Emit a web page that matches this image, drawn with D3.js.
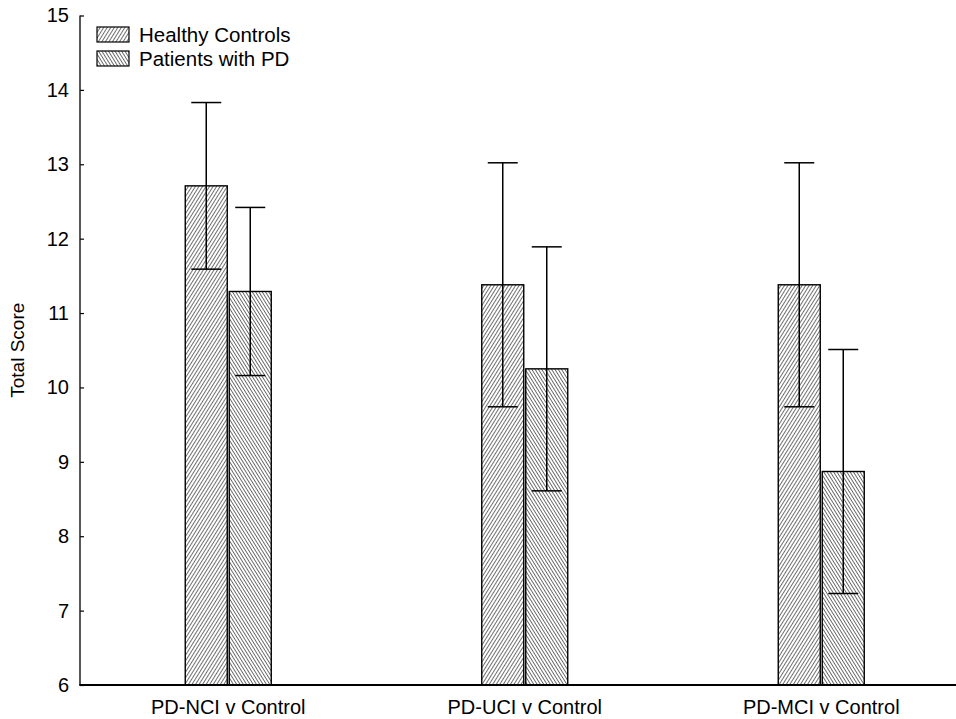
<!DOCTYPE html>
<html>
<head>
<meta charset="utf-8">
<script src="https://cdn.jsdelivr.net/npm/d3@7"></script>
<style>
  html, body { margin: 0; padding: 0; background: #fff; }
  svg { display: block; font-family: "Liberation Sans", Arial, sans-serif; }
</style>
</head>
<body>
<svg id="chart" width="956" height="719"></svg>
<script>
// Comparison groups along the x axis
const categories = ["PD-NCI v Control", "PD-UCI v Control", "PD-MCI v Control"];
const seriesNames = ["Healthy Controls", "Patients with PD"];

// Mean total score per group
const controlMeans = [12.71, 11.38, 11.38];
const patientMeans = [11.29, 10.25, 8.87];

// Error bar extents (lower / upper)
const controlLow  = [11.59, 9.74, 9.74];
const controlHigh = [13.83, 13.02, 13.02];
const patientLow  = [10.16, 8.61, 7.23];
const patientHigh = [12.42, 11.89, 10.51];

const yTicks = [6, 7, 8, 9, 10, 11, 12, 13, 14, 15];

const svg = d3.select("#chart");
const FONT = "Liberation Sans, Arial, sans-serif";

const plotLeft = 80, plotRight = 969.5, plotTop = 15.5, plotBottom = 685;

const x = d3.scaleBand().domain(categories).range([plotLeft, plotRight]).padding(0);
const y = d3.scaleLinear().domain([6, 15]).range([plotBottom, plotTop]);

// Hatch fills: forward diagonal for controls, back diagonal for patients
const defs = svg.append("defs");
function hatch(id, angle, gap) {
  const p = defs.append("pattern")
    .attr("id", id)
    .attr("patternUnits", "userSpaceOnUse")
    .attr("width", gap).attr("height", gap)
    .attr("patternTransform", `rotate(${angle})`);
  p.append("rect").attr("width", gap).attr("height", gap).attr("fill", "#fff");
  p.append("line")
    .attr("x1", 0).attr("y1", 0).attr("x2", 0).attr("y2", gap)
    .attr("stroke", "#1a1a1a").attr("stroke-width", 1.25);
}
hatch("hatchHC", 32, 3.0);
hatch("hatchPD", -32, 2.8);
const fills = ["url(#hatchHC)", "url(#hatchPD)"];

const rows = categories.map((c, i) => ({
  cat: c,
  vals: [
    { s: 0, mean: controlMeans[i], lo: controlLow[i], hi: controlHigh[i] },
    { s: 1, mean: patientMeans[i], lo: patientLow[i], hi: patientHigh[i] }
  ]
}));

const barW = 42, barGap = 2, capW = 30;
function barX(cat, s) {
  const c = x(cat) + x.bandwidth() / 2;
  return s === 0 ? c - barGap / 2 - barW : c + barGap / 2;
}

const g = svg.append("g");
rows.forEach(r => {
  r.vals.forEach(v => {
    const bx = barX(r.cat, v.s);
    g.append("rect")
      .attr("x", bx).attr("y", y(v.mean))
      .attr("width", barW).attr("height", y(6) - y(v.mean))
      .attr("fill", fills[v.s])
      .attr("stroke", "#000").attr("stroke-width", 1.4);
  });
});

// Error bars
rows.forEach(r => {
  r.vals.forEach(v => {
    const cx = barX(r.cat, v.s) + barW / 2;
    g.append("line")
      .attr("x1", cx).attr("x2", cx)
      .attr("y1", y(v.hi)).attr("y2", y(v.lo))
      .attr("stroke", "#000").attr("stroke-width", 1.5);
    [v.hi, v.lo].forEach(e => {
      g.append("line")
        .attr("x1", cx - capW / 2).attr("x2", cx + capW / 2)
        .attr("y1", y(e)).attr("y2", y(e))
        .attr("stroke", "#000").attr("stroke-width", 1.5);
    });
  });
});

// Y axis with short inward ticks
const yAxis = svg.append("g")
  .attr("transform", `translate(${plotLeft},0)`)
  .call(d3.axisRight(y).tickValues(yTicks).tickSize(4).tickFormat(d3.format("d")));
yAxis.select(".domain").remove();
yAxis.selectAll(".tick line").attr("stroke", "#000").attr("stroke-width", 1.2);
yAxis.selectAll(".tick text")
  .attr("x", -11).attr("text-anchor", "end")
  .attr("font-size", 20).attr("fill", "#000")
  .attr("font-family", FONT);
svg.append("line")
  .attr("x1", plotLeft).attr("x2", plotLeft).attr("y1", plotTop).attr("y2", plotBottom)
  .attr("stroke", "#111").attr("stroke-width", 1.4);

// X axis
const xAxis = svg.append("g")
  .attr("transform", `translate(0,${plotBottom})`)
  .call(d3.axisBottom(x).tickSize(0).tickPadding(15));
xAxis.select(".domain").remove();
xAxis.selectAll(".tick text")
  .attr("font-size", 20).attr("fill", "#000")
  .attr("font-family", FONT);
svg.append("line")
  .attr("x1", plotLeft - 0.7).attr("x2", 956).attr("y1", plotBottom).attr("y2", plotBottom)
  .attr("stroke", "#000").attr("stroke-width", 2);

// Y axis title
svg.append("text")
  .attr("transform", `translate(24,${(plotTop + plotBottom) / 2}) rotate(-90)`)
  .attr("text-anchor", "middle")
  .attr("font-size", 19)
  .attr("font-family", FONT)
  .text("Total Score");

// Legend
const legend = svg.append("g");
seriesNames.forEach((name, i) => {
  const ly = 27 + i * 24;
  legend.append("rect")
    .attr("x", 97).attr("y", ly).attr("width", 32).attr("height", 15)
    .attr("fill", fills[i]).attr("stroke", "#000").attr("stroke-width", 1.2);
  legend.append("text")
    .attr("x", 139).attr("y", ly + 15)
    .attr("font-size", 20.5)
    .attr("font-family", FONT)
    .text(name);
});
</script>
</body>
</html>
